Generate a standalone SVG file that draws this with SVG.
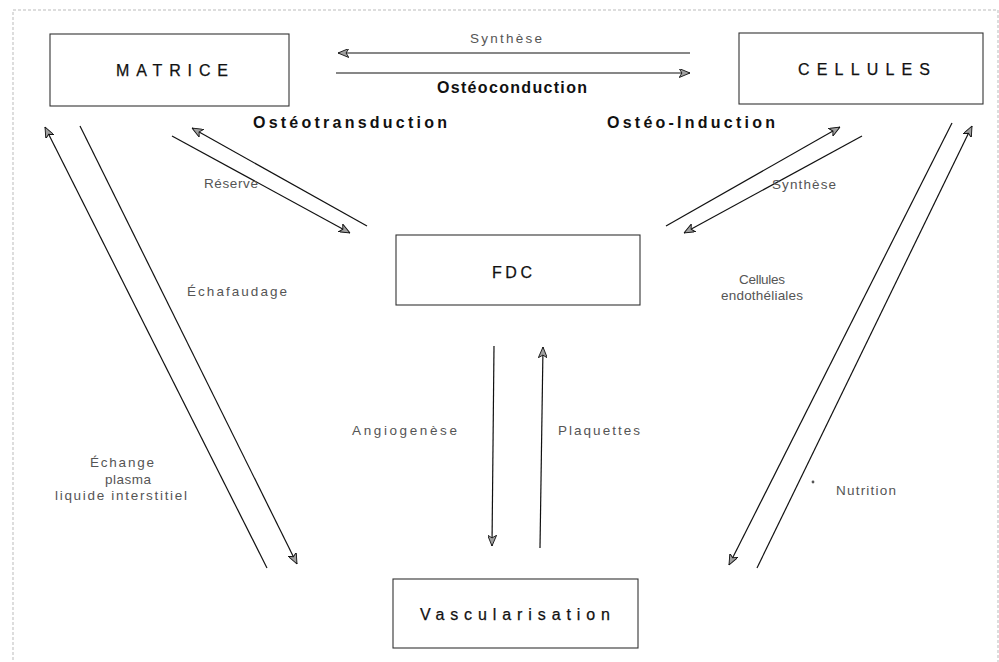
<svg xmlns="http://www.w3.org/2000/svg" width="999" height="662" viewBox="0 0 999 662">
<defs>
<marker id="ah" viewBox="0 0 12 10" refX="12" refY="5" markerWidth="11" markerHeight="9" markerUnits="userSpaceOnUse" orient="auto">
<path d="M0,0 L12,5 L0,10 L3,5 z" fill="#a0a0a0" stroke="#111" stroke-width="1"/>
</marker>
<style>
.box{fill:#fff;stroke:#333;stroke-width:1.1}
.bl{font-family:"Liberation Sans",Arial,sans-serif;font-size:16px;fill:#111;stroke:#111;stroke-width:0.25;text-anchor:middle}
.bd{font-family:"Liberation Sans",Arial,sans-serif;font-size:16px;font-weight:bold;fill:#111}
.lb{font-family:"Liberation Sans",Arial,sans-serif;font-size:13.5px;fill:#555}
.ln{fill:none;stroke:#111;stroke-width:1.2;marker-end:url(#ah)}
</style>
</defs>
<rect x="0" y="0" width="999" height="662" fill="#fff"/>
<rect x="13" y="10" width="985" height="660" fill="none" stroke="#aaa" stroke-width="0.8" stroke-dasharray="3 2"/>

<g id="matrice">
<rect class="box" x="50" y="34" width="239" height="72"/>
<text class="bl" x="172" y="76" textLength="112" lengthAdjust="spacing">MATRICE</text>
</g>
<g id="cellules">
<rect class="box" x="739" y="33" width="244" height="71"/>
<text class="bl" x="864" y="75" textLength="132" lengthAdjust="spacing">CELLULES</text>
</g>
<g id="fdc">
<rect class="box" x="396" y="235" width="244" height="70"/>
<text class="bl" x="512" y="278" textLength="40" lengthAdjust="spacing">FDC</text>
</g>
<g id="vascularisation">
<rect class="box" x="393" y="579" width="245" height="69"/>
<text class="bl" x="515" y="620" font-size="17" textLength="190" lengthAdjust="spacing">Vascularisation</text>
</g>

<g id="connectors">
<path class="ln" d="M690,53 L338,53"/>
<path class="ln" d="M336,73 L690,73"/>
<path class="ln" d="M367,226 L192,128"/>
<path class="ln" d="M172,136 L350,233"/>
<path class="ln" d="M666,226 L840,127"/>
<path class="ln" d="M862,136 L684,233"/>
<path class="ln" d="M267,568 L45,127"/>
<path class="ln" d="M80,126 L297,564"/>
<path class="ln" d="M757,568 L972,126"/>
<path class="ln" d="M952,123 L729,565"/>
<path class="ln" d="M494,346 L492,546"/>
<path class="ln" d="M540,548 L543,347"/>
</g>

<g id="labels">
<text class="lb" x="470" y="43" font-size="14" textLength="72" lengthAdjust="spacing">Synthèse</text>
<text class="bd" x="437" y="93" font-size="15" textLength="150" lengthAdjust="spacing">Ostéoconduction</text>
<text class="bd" x="253" y="128" textLength="194" lengthAdjust="spacing">Ostéotransduction</text>
<text class="bd" x="607" y="128" textLength="168" lengthAdjust="spacing">Ostéo-Induction</text>
<text class="lb" x="204" y="188" textLength="54" lengthAdjust="spacing">Réserve</text>
<text class="lb" x="772" y="189" textLength="64" lengthAdjust="spacing">Synthèse</text>
<text class="lb" x="187" y="296" textLength="100" lengthAdjust="spacing">Échafaudage</text>
<text class="lb" x="762" y="284" text-anchor="middle" textLength="46" lengthAdjust="spacing">Cellules</text>
<text class="lb" x="762" y="300" text-anchor="middle" textLength="82" lengthAdjust="spacing">endothéliales</text>
<text class="lb" x="352" y="435" textLength="105" lengthAdjust="spacing">Angiogenèse</text>
<text class="lb" x="558" y="435" textLength="82" lengthAdjust="spacing">Plaquettes</text>
<text class="lb" x="122" y="467" text-anchor="middle" textLength="64" lengthAdjust="spacing">Échange</text>
<text class="lb" x="128" y="484" text-anchor="middle" textLength="46" lengthAdjust="spacing">plasma</text>
<text class="lb" x="121" y="500" text-anchor="middle" textLength="132" lengthAdjust="spacing">liquide interstitiel</text>
<text class="lb" x="836" y="495" textLength="60" lengthAdjust="spacing">Nutrition</text>
<circle cx="813" cy="482" r="1.4" fill="#555"/>
</g>
</svg>
